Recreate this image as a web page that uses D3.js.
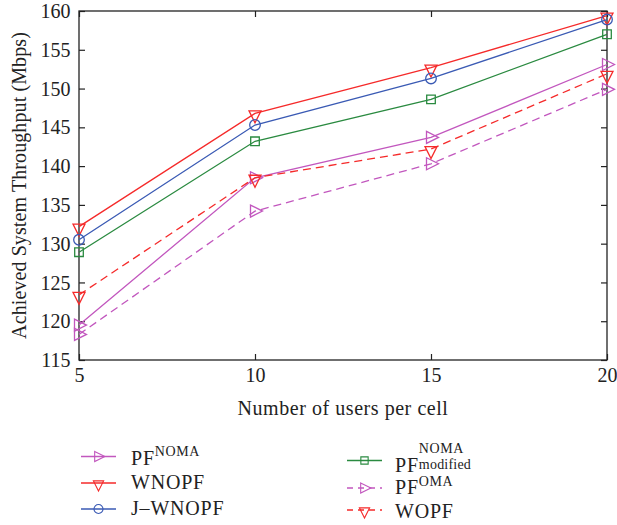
<!DOCTYPE html>
<html>
<head>
<meta charset="utf-8">
<script src="https://cdn.jsdelivr.net/npm/d3@7"></script>
<style>
  html, body { margin: 0; padding: 0; background: #fff; }
  svg text { font-family: "Liberation Serif", "DejaVu Serif", serif; fill: #222; }
</style>
</head>
<body>
<svg id="chart" width="617" height="525"></svg>
<script>
// Users per cell (x axis)
const users = [5, 10, 15, 20];
const yTicks = [115, 120, 125, 130, 135, 140, 145, 150, 155, 160];

// Achieved system throughput (Mbps) per scheme
const pfNoma         = [119.5, 138.5, 143.7, 153.1];
const wnopf          = [132.2, 146.8, 152.7, 159.4];
const jWnopf         = [130.5, 145.3, 151.3, 158.9];
const pfNomaModified = [128.9, 143.2, 148.6, 157.0];
const pfOma          = [118.3, 134.2, 140.3, 149.9];
const wopf           = [123.4, 138.5, 142.2, 151.9];

const series = [
  { key: "pfNoma",  values: pfNoma,         color: "#c257be", marker: "right",  dash: null },
  { key: "wnopf",   values: wnopf,          color: "#f52a2a", marker: "down",   dash: null },
  { key: "jwnopf",  values: jWnopf,         color: "#3a5ab4", marker: "circle", dash: null },
  { key: "pfMod",   values: pfNomaModified, color: "#2a8a40", marker: "square", dash: null },
  { key: "pfOma",   values: pfOma,          color: "#c257be", marker: "right",  dash: "8,5" },
  { key: "wopf",    values: wopf,           color: "#f52a2a", marker: "down",   dash: "8,5" }
];

const svg = d3.select("#chart");
const plot = { left: 79, right: 607, top: 11, bottom: 360 };

const x = d3.scaleLinear().domain([5, 20]).range([plot.left, plot.right]);
const y = d3.scaleLinear().domain([115, 160]).range([plot.bottom, plot.top]);

// Marker outlines, anchored on the data point
function markerPath(type) {
  if (type === "right")  return "M-4.5,-6L7.5,0L-4.5,6Z";
  if (type === "down")   return "M-6,-2.5L6,-2.5L0,9.5Z";
  if (type === "square") return "M-4.3,-4.3H4.3V4.3H-4.3Z";
  return null;
}
function drawMarker(g, type, cx, cy, color) {
  if (type === "circle") {
    g.append("circle").attr("cx", cx).attr("cy", cy).attr("r", 5.3)
      .attr("fill", "none").attr("stroke", color).attr("stroke-width", 1.3);
  } else {
    g.append("path").attr("d", markerPath(type))
      .attr("transform", `translate(${cx},${cy})`)
      .attr("fill", "none").attr("stroke", color).attr("stroke-width", 1.3);
  }
}

// Axes (ticks point inward on all four sides)
const axisColor = "#222";
const fontSize = 20;
svg.append("g").attr("class", "xb").attr("transform", `translate(0,${plot.bottom})`)
  .call(d3.axisBottom(x).tickValues(users).tickSizeInner(-6).tickSizeOuter(0))
  .call(g => g.select(".domain").remove())
  .call(g => g.selectAll(".tick text").attr("y", 22).attr("dy", 0));
svg.append("g").attr("transform", `translate(0,${plot.top})`)
  .call(d3.axisTop(x).tickValues(users).tickSizeInner(-6).tickSizeOuter(0).tickFormat(""))
  .call(g => g.select(".domain").remove());
svg.append("g").attr("transform", `translate(${plot.left},0)`)
  .call(d3.axisLeft(y).tickValues(yTicks).tickSizeInner(-6).tickSizeOuter(0))
  .call(g => g.select(".domain").remove())
  .call(g => g.selectAll(".tick text").attr("x", -8.5).attr("dy", "0.33em"));
svg.append("g").attr("transform", `translate(${plot.right},0)`)
  .call(d3.axisRight(y).tickValues(yTicks).tickSizeInner(-6).tickSizeOuter(0).tickFormat(""))
  .call(g => g.select(".domain").remove());

svg.selectAll(".tick line").attr("stroke", axisColor).attr("stroke-width", 1.2);
svg.selectAll(".tick text").attr("font-size", fontSize).attr("fill", "#222")
  .attr("font-family", "Liberation Serif, DejaVu Serif, serif");

// Frame
svg.append("rect")
  .attr("x", plot.left).attr("y", plot.top)
  .attr("width", plot.right - plot.left).attr("height", plot.bottom - plot.top)
  .attr("fill", "none").attr("stroke", axisColor).attr("stroke-width", 1.3);

// Series lines and markers
const line = d3.line().x((d, i) => x(users[i])).y(d => y(d));
const linesG = svg.append("g");
series.forEach(s => {
  linesG.append("path").datum(s.values)
    .attr("d", line)
    .attr("fill", "none").attr("stroke", s.color).attr("stroke-width", 1.3)
    .attr("stroke-dasharray", s.dash);
  s.values.forEach((v, i) => drawMarker(linesG, s.marker, x(users[i]), y(v), s.color));
});

// Axis titles
svg.append("text")
  .attr("x", (plot.left + plot.right) / 2).attr("y", 415)
  .attr("text-anchor", "middle").attr("font-size", fontSize)
  .attr("letter-spacing", 0.55)
  .text("Number of users per cell");
svg.append("text")
  .attr("transform", `translate(26,${(plot.top + plot.bottom) / 2}) rotate(-90)`)
  .attr("text-anchor", "middle").attr("font-size", fontSize)
  .attr("letter-spacing", 0.1)
  .text("Achieved System Throughput (Mbps)");

// Legend: line/marker sample, label, optional super- and subscripts
const legendItems = [
  { s: series[0], col: 0, line: 456.5, base: 465, text: "PF", sup: "NOMA", supY: 456 },
  { s: series[1], col: 0, line: 483,   base: 489, text: "WNOPF" },
  { s: series[2], col: 0, line: 509,   base: 515, text: "J–WNOPF" },
  { s: series[3], col: 1, line: 460.5, base: 472, text: "PF", sup: "NOMA", supY: 453, sub: "modified", subY: 469 },
  { s: series[4], col: 1, line: 488,   base: 494, text: "PF", sup: "OMA", supY: 486 },
  { s: series[5], col: 1, line: 510,   base: 518, text: "WOPF" }
];
const colX = [{ l0: 81, l1: 116, t: 131 }, { l0: 347, l1: 382, t: 395 }];
const legend = svg.append("g");
legendItems.forEach(it => {
  const c = colX[it.col];
  legend.append("line")
    .attr("x1", c.l0).attr("x2", c.l1).attr("y1", it.line).attr("y2", it.line)
    .attr("stroke", it.s.color).attr("stroke-width", 1.3)
    .attr("stroke-dasharray", it.s.dash ? "6,5" : null);
  const mg = legend.append("g")
    .attr("transform", `translate(${(c.l0 + c.l1) / 2},${it.line}) scale(0.85)`);
  drawMarker(mg, it.s.marker, 0, 0, it.s.color);

  const t = legend.append("text").attr("x", c.t).attr("y", it.base)
    .attr("font-size", fontSize).attr("letter-spacing", 0.8).text(it.text);
  const w = t.node().getComputedTextLength();
  if (it.sup) {
    legend.append("text").attr("x", c.t + w).attr("y", it.supY)
      .attr("font-size", 14).attr("letter-spacing", 0.6).text(it.sup);
  }
  if (it.sub) {
    legend.append("text").attr("x", c.t + w).attr("y", it.subY)
      .attr("font-size", 14).attr("letter-spacing", 0.2).text(it.sub);
  }
});
</script>
</body>
</html>
